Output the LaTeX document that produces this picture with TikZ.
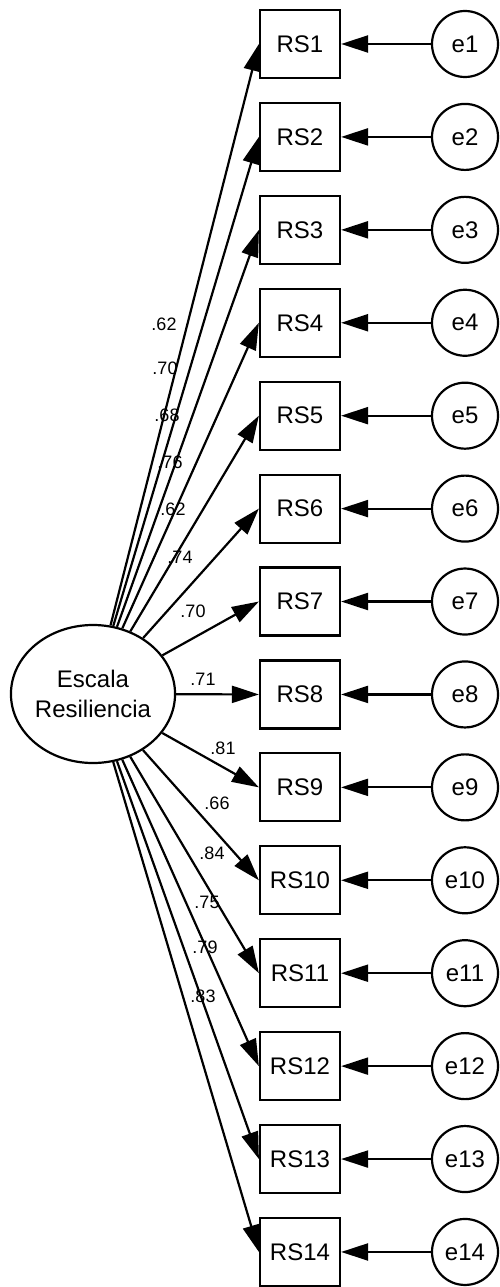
\documentclass[tikz,border=0pt]{standalone}
\usepackage{fontspec}
\setmainfont{Liberation Sans}
\usetikzlibrary{arrows.meta,shapes.geometric}
\begin{document}
\begin{tikzpicture}[x=1pt,y=-1pt,
  obs/.style={draw, line width=2.2pt, minimum width=80pt, minimum height=68pt, inner sep=0pt, font=\fontsize{24}{27}\selectfont},
  err/.style={draw, circle, line width=2.2pt, minimum size=66pt, inner sep=0pt, font=\fontsize{24}{27}\selectfont},
  lat/.style={draw, ellipse, line width=2.2pt, minimum width=163pt, minimum height=138pt, inner sep=0pt, align=center, font=\fontsize{24}{30}\selectfont},
  pth/.style={line width=2.2pt, -{Triangle[length=27pt,width=17pt]}},
  lbl/.style={font=\fontsize{18}{20}\selectfont, inner sep=0pt}]
\useasboundingbox (0,0) rectangle (499,1287);
\node[lat] (F) at (93,694) {Escala\\Resiliencia};
\foreach \i in {1,...,14} {
  \node[obs] (rs\i) at (300,{44+92.92*(\i-1)}) {RS\i};
  \node[err] (e\i) at (465,{44+92.92*(\i-1)}) {e\i};
  \draw[pth] (e\i) -- (rs\i);
  \draw[pth] (F) -- (rs\i.west);
}
\node[lbl] (l1) at (164,324) {.62};
\node[lbl] (l2) at (165,368) {.70};
\node[lbl] (l3) at (167,415) {.68};
\node[lbl] (l4) at (170,462) {.76};
\node[lbl] (l5) at (173,509) {.62};
\node[lbl] (l6) at (180,557) {.74};
\node[lbl] (l7) at (193,611) {.70};
\node[lbl] (l8) at (203,679) {.71};
\node[lbl] (l9) at (223,748) {.81};
\node[lbl] (l10) at (217,803) {.66};
\node[lbl] (l11) at (212,853) {.84};
\node[lbl] (l12) at (207,902) {.75};
\node[lbl] (l13) at (205,947) {.79};
\node[lbl] (l14) at (203,996) {.83};
\end{tikzpicture}
\end{document}
